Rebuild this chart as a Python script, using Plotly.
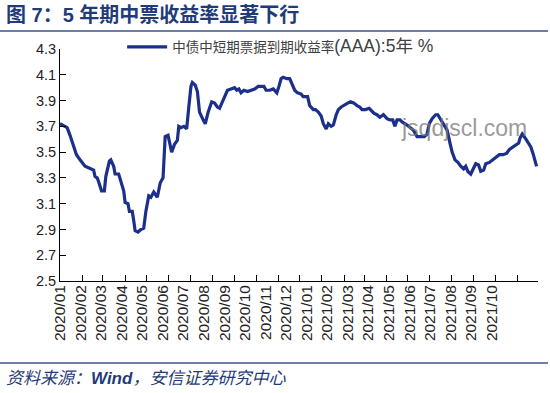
import plotly.graph_objects as go

# ---- data ----
dates = [
    "2020-01-01", "2020-01-08", "2020-01-11", "2020-01-15", "2020-01-19", "2020-01-24", "2020-01-29",
    "2020-02-05", "2020-02-09", "2020-02-14", "2020-02-17", "2020-02-19", "2020-02-22", "2020-02-24",
    "2020-02-28", "2020-03-03", "2020-03-05", "2020-03-10", "2020-03-12", "2020-03-16", "2020-03-18",
    "2020-03-23", "2020-03-26", "2020-03-30", "2020-04-01", "2020-04-05", "2020-04-07", "2020-04-11",
    "2020-04-13", "2020-04-15", "2020-04-19", "2020-04-23", "2020-04-27", "2020-04-30", "2020-05-04",
    "2020-05-07", "2020-05-11", "2020-05-14", "2020-05-16", "2020-05-20", "2020-05-24", "2020-05-27",
    "2020-05-31", "2020-06-02", "2020-06-05", "2020-06-09", "2020-06-13", "2020-06-15", "2020-06-18",
    "2020-06-22", "2020-06-26", "2020-06-29", "2020-07-02", "2020-07-04", "2020-07-08", "2020-07-11",
    "2020-07-14", "2020-07-19", "2020-07-22", "2020-07-26", "2020-07-31", "2020-08-04", "2020-08-08",
    "2020-08-11", "2020-08-15", "2020-08-19", "2020-08-22", "2020-08-27", "2020-09-01", "2020-09-04",
    "2020-09-07", "2020-09-10", "2020-09-14", "2020-09-19", "2020-09-24", "2020-09-29", "2020-10-04",
    "2020-10-08", "2020-10-12", "2020-10-15", "2020-10-20", "2020-10-25", "2020-10-30", "2020-11-02",
    "2020-11-05", "2020-11-08", "2020-11-13", "2020-11-17", "2020-11-20", "2020-11-24", "2020-11-28",
    "2020-12-03", "2020-12-06", "2020-12-08", "2020-12-12", "2020-12-15", "2020-12-20", "2020-12-23",
    "2020-12-27", "2020-12-31", "2021-01-03", "2021-01-07", "2021-01-10", "2021-01-14", "2021-01-17",
    "2021-01-21", "2021-01-24", "2021-01-28", "2021-02-02", "2021-02-06", "2021-02-10", "2021-02-15",
    "2021-02-19", "2021-02-23", "2021-02-26", "2021-03-03", "2021-03-08", "2021-03-11", "2021-03-15",
    "2021-03-19", "2021-03-23", "2021-03-28", "2021-04-02", "2021-04-06", "2021-04-10", "2021-04-13",
    "2021-04-16", "2021-04-20", "2021-04-24", "2021-04-30", "2021-05-05", "2021-05-09", "2021-05-14",
    "2021-05-19", "2021-05-24", "2021-05-28", "2021-05-31", "2021-06-04", "2021-06-09", "2021-06-12",
    "2021-06-16", "2021-06-20", "2021-06-25", "2021-06-29", "2021-07-02", "2021-07-06", "2021-07-10",
    "2021-07-14", "2021-07-18", "2021-07-21", "2021-07-24", "2021-07-28", "2021-08-01", "2021-08-04",
    "2021-08-08", "2021-08-11", "2021-08-15", "2021-08-18", "2021-08-23", "2021-08-28", "2021-09-02",
    "2021-09-06", "2021-09-11", "2021-09-16", "2021-09-20", "2021-09-25", "2021-09-29", "2021-10-03",
    "2021-10-05", "2021-10-08", "2021-10-12", "2021-10-16", "2021-10-20", "2021-10-23", "2021-10-25",
    "2021-10-28",
]
yields = [
    3.72, 3.70, 3.69, 3.63, 3.57, 3.48, 3.44,
    3.39, 3.38, 3.37, 3.36, 3.31, 3.30, 3.27,
    3.20, 3.20, 3.31, 3.43, 3.44, 3.39, 3.33,
    3.33, 3.28, 3.20, 3.11, 3.10, 3.04, 3.04,
    2.97, 2.89, 2.88, 2.90, 2.91, 3.04, 3.16,
    3.15, 3.19, 3.16, 3.15, 3.26, 3.30, 3.62,
    3.63, 3.58, 3.50, 3.56, 3.59, 3.70, 3.69,
    3.70, 3.68, 3.85, 4.01, 4.04, 4.02, 3.97,
    3.81, 3.75, 3.72, 3.81, 3.89, 3.88, 3.85,
    3.84, 3.89, 3.93, 3.98, 3.99, 4.00, 3.98,
    3.99, 3.96, 3.98, 3.97, 3.98, 3.99, 4.01,
    4.01, 4.01, 3.98, 3.98, 3.99, 3.96, 4.01,
    4.07, 4.08, 4.07, 4.07, 4.03, 3.98, 3.96,
    3.95, 3.93, 3.93, 3.93, 3.86, 3.83, 3.83,
    3.81, 3.78, 3.72, 3.68, 3.72, 3.70, 3.71,
    3.79, 3.83, 3.85, 3.87, 3.88, 3.89, 3.88,
    3.86, 3.85, 3.83, 3.83, 3.84, 3.82, 3.80,
    3.79, 3.77, 3.79, 3.76, 3.75, 3.75, 3.70,
    3.75, 3.75, 3.73, 3.71, 3.69, 3.67, 3.62,
    3.62, 3.62, 3.64, 3.72, 3.76, 3.79, 3.79,
    3.75, 3.71, 3.67, 3.57, 3.50, 3.44, 3.42,
    3.39, 3.37, 3.39, 3.35, 3.33, 3.37, 3.41,
    3.40, 3.35, 3.36, 3.41, 3.42, 3.44, 3.46,
    3.48, 3.48, 3.49, 3.52, 3.54, 3.55, 3.57,
    3.61, 3.64, 3.61, 3.58, 3.54, 3.49, 3.45,
    3.39,
]
month_ticks = [f"{y}-{m:02d}-01" for y, m in
               [(2020, m) for m in range(2, 13)] + [(2021, m) for m in range(1, 11)]]
tick_labels = [f"2020/{m:02d}" for m in range(1, 13)] + [f"2021/{m:02d}" for m in range(1, 11)]
y_ticks = [2.5, 2.7, 2.9, 3.1, 3.3, 3.5, 3.7, 3.9, 4.1, 4.3]

series_cn = "中债中短期票据到期收益率"
series_unit = "(AAA):5年 %"
title_text = "图 7：5 年期中票收益率显著下行"
source_text = "资料来源：<b>Wind</b>，安信证券研究中心"

NAVY = "#1f3c78"
LINE = "#1c2f8a"
FONT = "Liberation Sans, Arial, Noto Sans CJK SC, sans-serif"

fig = go.Figure()
fig.add_trace(go.Scatter(
    x=dates, y=yields, mode="lines",
    name=f"{series_cn}<span style='font-size:17.5px'>{series_unit}</span>",
    line=dict(color=LINE, width=3.2)))
# empty helper trace so the label axis (x2) is drawn; it has no marks
fig.add_trace(go.Scatter(x=[], y=[], xaxis="x2", yaxis="y", mode="lines",
                         showlegend=False, hoverinfo="skip"))

W, H = 550, 393
L, R, T, B = 60, 12, 49, 112
plot_w = W - L - R
plot_h = H - T - B
label_step = 20.56 / plot_w  # label spacing of the reference's category axis

fig.update_layout(
    width=W, height=H,
    margin=dict(l=L, r=R, t=T, b=B),
    paper_bgcolor="white", plot_bgcolor="white",
    font=dict(family=FONT, size=13, color="#222222"),
    showlegend=True,
    legend=dict(x=0.13, y=1 + 2 / plot_h, xanchor="left", yanchor="middle",
                itemwidth=40,
                bgcolor="rgba(0,0,0,0)", font=dict(size=13.5, color="#404040",
                family="Liberation Sans, Noto Sans CJK SC, sans-serif")),
    xaxis=dict(type="date", range=["2020-01-01", "2021-10-30"],
               tickvals=month_ticks, showticklabels=False,
               ticks="inside", ticklen=6, tickcolor="black", tickwidth=1,
               showline=True, linecolor="black", linewidth=1, showgrid=False,
               zeroline=False),
    xaxis2=dict(overlaying="x", anchor="y", side="bottom", range=[0, 1],
                tickvals=[i * label_step for i in range(len(tick_labels))],
                ticktext=tick_labels, tickangle=-90, ticks="", ticklen=0,
                tickfont=dict(size=15.5, color="#222222"),
                showline=False, showgrid=False, zeroline=False),
    yaxis=dict(range=[2.5, 4.3], tickvals=y_ticks, tickformat=".1f",
               ticks="inside", ticklen=6, tickcolor="black",
               tickfont=dict(size=14.5, color="#222222"),
               showline=True, linecolor="black", linewidth=1, showgrid=False,
               zeroline=False),
)

# header / footer rules
fig.add_shape(type="line", xref="paper", yref="paper",
              x0=-L / plot_w, x1=1 + (R - 2) / plot_w,
              y0=1 + (T - 31) / plot_h, y1=1 + (T - 31) / plot_h,
              line=dict(color="#3a5488", width=1.5))
fig.add_shape(type="line", xref="paper", yref="paper",
              x0=-L / plot_w, x1=1 + (R - 2) / plot_w,
              y0=-(363 - (H - B)) / plot_h, y1=-(363 - (H - B)) / plot_h,
              line=dict(color="#3a5488", width=1.5))

fig.add_annotation(text=f"<b>{title_text}</b>", xref="paper", yref="paper",
                   x=-(L - 4) / plot_w, y=1 + (T - 15) / plot_h,
                   xanchor="left", yanchor="middle", showarrow=False,
                   font=dict(size=20, color=NAVY,
                             family="Liberation Sans, Noto Sans CJK SC, sans-serif"))
fig.add_annotation(text=f"<i>{source_text}</i>", xref="paper", yref="paper",
                   x=-(L - 4) / plot_w, y=-(378 - (H - B)) / plot_h,
                   xanchor="left", yanchor="middle", showarrow=False,
                   font=dict(size=17, color=NAVY,
                             family="Liberation Sans, Noto Sans CJK SC, sans-serif"))
fig.add_annotation(text="jsqdjscl.com", xref="paper", yref="paper",
                   x=(464 - L) / plot_w, y=(H - B - 128) / plot_h,
                   xanchor="center", yanchor="middle", showarrow=False,
                   font=dict(size=23, color="rgba(120,120,120,0.75)",
                             family="Liberation Sans, Arial, sans-serif"))

fig.write_html("out.html", config={"displayModeBar": False},
               post_script="document.body.style.margin='0';")
